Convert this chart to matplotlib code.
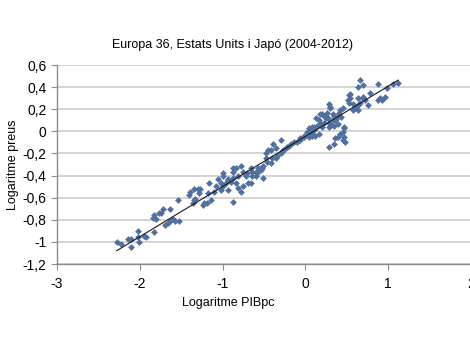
import matplotlib.pyplot as plt
import numpy as np

plt.rcParams['font.family'] = ['Liberation Sans', 'DejaVu Sans']

# log GDP per capita (x) and log price level (y)
log_pib = [-2.28, -2.23, -2.14, -2.11, -2.11, -2.02, -2.02, -2.01, -1.95, -1.93,
           -1.83, -1.84, -1.83, -1.81, -1.77, -1.72, -1.75, -1.69, -1.66, -1.63,
           -1.57, -1.53, -1.63, -1.54, -1.60,
           -1.41, -1.39, -1.35, -1.30, -1.27, -1.36, -1.35, -1.33, -1.29, -1.24,
           -1.23, -1.19, -1.17, -1.14, -1.18, -1.11, -1.08, -1.05, -1.02, -1.00,
           -0.99, -0.99, -1.02, -0.96, -0.93, -0.94, -0.93, -0.90, -0.87, -0.88,
           -0.88, -0.87, -0.84, -0.84, -0.82, -0.82, -0.78, -0.78, -0.76, -0.75,
           -0.72, -0.70, -0.69, -0.66, -0.64, -0.60, -0.57, -0.54, -0.51, -0.46,
           -0.48, -0.45, -0.58, -0.51, -0.54, -0.42, -0.48, -0.42, -0.36, -0.40,
           -0.34, -0.30, -0.28, -0.24, -0.22, -0.18, -0.14, -0.10, -0.06, -0.02,
           0.02, 0.04, 0.08, 0.12, 0.14, 0.04, 0.08, 0.16, -0.66, -0.60,
           -0.39, -0.36, -0.30, -0.27, -0.20, -0.64, -0.52,
           0.28, 0.30, 0.20, 0.22, 0.24, 0.27, 0.33, 0.34, 0.39, 0.40,
           0.42, 0.45, 0.16, 0.18, 0.22, 0.28, 0.33, 0.36, 0.39, 0.34,
           0.28, 0.20, 0.10, 0.06, -0.02, -0.06, 0.08, 0.12, 0.10, 0.54,
           0.52, 0.57, 0.60, 0.63, 0.66, 0.69, 0.72, 0.64, 0.46, 0.45,
           0.42, 0.39, 0.36, 0.46, 0.45, 0.48, 0.28, 0.34, 0.57, 0.51,
           0.52, 0.54, 0.63, 0.64, 0.69, 0.66, 0.70, 0.75, 0.78, 0.88,
           0.90, 0.88, 0.93, 0.96, 0.99, 1.06, 1.12, 0.18, 0.13, 0.30,
           0.26, 0.31, 0.25, 0.37, 0.43, 0.46]
log_preus = [-1.00, -1.02, -0.97, -0.97, -1.05, -0.90, -0.96, -1.00, -0.95, -0.96,
             -0.91, -0.78, -0.76, -0.79, -0.74, -0.70, -0.74, -0.85, -0.83, -0.81,
             -0.81, -0.81, -0.70, -0.62, -0.79,
             -0.58, -0.55, -0.52, -0.52, -0.52, -0.65, -0.62, -0.61, -0.56, -0.67,
             -0.65, -0.65, -0.47, -0.62, -0.56, -0.55, -0.49, -0.43, -0.47, -0.40,
             -0.38, -0.49, -0.53, -0.47, -0.43, -0.44, -0.53, -0.46, -0.64, -0.42,
             -0.33, -0.37, -0.33, -0.47, -0.40, -0.51, -0.31, -0.55, -0.37, -0.49,
             -0.40, -0.38, -0.47, -0.47, -0.40, -0.37, -0.33, -0.33, -0.31, -0.28,
             -0.20, -0.17, -0.38, -0.42, -0.35, -0.29, -0.24, -0.17, -0.15, -0.24,
             -0.22, -0.08, -0.19, -0.15, -0.14, -0.11, -0.10, -0.10, -0.08, -0.05,
             -0.01, 0.03, 0.04, 0.03, 0.05, -0.05, -0.04, -0.02, -0.33, -0.40,
             -0.11, -0.24, -0.20, -0.17, -0.13, -0.37, -0.33,
             0.25, 0.22, 0.16, 0.14, 0.13, 0.12, 0.16, 0.14, 0.14, 0.17,
             0.19, 0.21, 0.10, 0.08, 0.08, 0.08, 0.10, 0.10, 0.07, 0.05,
             0.04, 0.04, 0.04, 0.01, -0.04, -0.06, -0.02, -0.04, 0.01, 0.30,
             0.26, 0.25, 0.22, 0.19, 0.26, 0.30, 0.28, 0.24, 0.03, -0.01,
             -0.02, -0.05, -0.06, -0.05, -0.08, -0.10, -0.14, -0.11, 0.19, 0.28,
             0.33, 0.34, 0.30, 0.40, 0.42, 0.46, 0.31, 0.24, 0.35, 0.43,
             0.30, 0.28, 0.28, 0.31, 0.39, 0.43, 0.44, 0.16, 0.12, 0.21,
             0.17, 0.06, 0.12, 0.11, 0.13, 0.04]

# linear trend line as drawn in the original
trend_x = [-2.28, 1.12]
trend_slope = 0.454
trend_intercept = -0.045

y_ticks = [0.6, 0.4, 0.2, 0, -0.2, -0.4, -0.6, -0.8, -1, -1.2]
x_ticks = [-3, -2, -1, 0, 1, 2]

fig = plt.figure(figsize=(4.7, 3.53), dpi=100)
ax = fig.add_axes([0.1213, 0.2521, 0.881, 0.5637])

ax.scatter(log_pib, log_preus, marker='D', s=12, color='#51709f', linewidths=0, zorder=3)
tx = np.array(trend_x)
ax.plot(tx, trend_slope * tx + trend_intercept, color='#1a1a1a', lw=0.8, zorder=4)

ax.set_xlim(-3, 2)
ax.set_ylim(-1.2, 0.6)
ax.set_yticks(y_ticks)
ax.set_yticklabels([('%g' % v).replace('.', ',') for v in y_ticks])
ax.set_xticks(x_ticks)
ax.set_xticklabels([str(v) for v in x_ticks])
ax.yaxis.grid(True, color='#c9c9c9', lw=1.1)
ax.set_axisbelow(True)
for s in ['top', 'right']:
    ax.spines[s].set_visible(False)
for s in ['left', 'bottom']:
    ax.spines[s].set_color('#8c8c8c')
    ax.spines[s].set_linewidth(1.0)
ax.tick_params(axis='both', direction='out', length=4, color='#8c8c8c',
               labelsize=10, labelcolor='black')
ax.tick_params(axis='x', pad=5)

fig.text(233 / 470, 1 - 45 / 353, 'Europa 36, Estats Units i Japó (2004-2012)',
         ha='center', va='center', fontsize=9)
fig.text(228 / 470, 1 - 303 / 353, 'Logaritme PIBpc', ha='center', va='center', fontsize=9)
fig.text(13 / 470, 1 - 165 / 353, 'Logaritme preus', ha='center', va='center',
         rotation=90, fontsize=9)

fig.savefig('out.png', dpi=100)
